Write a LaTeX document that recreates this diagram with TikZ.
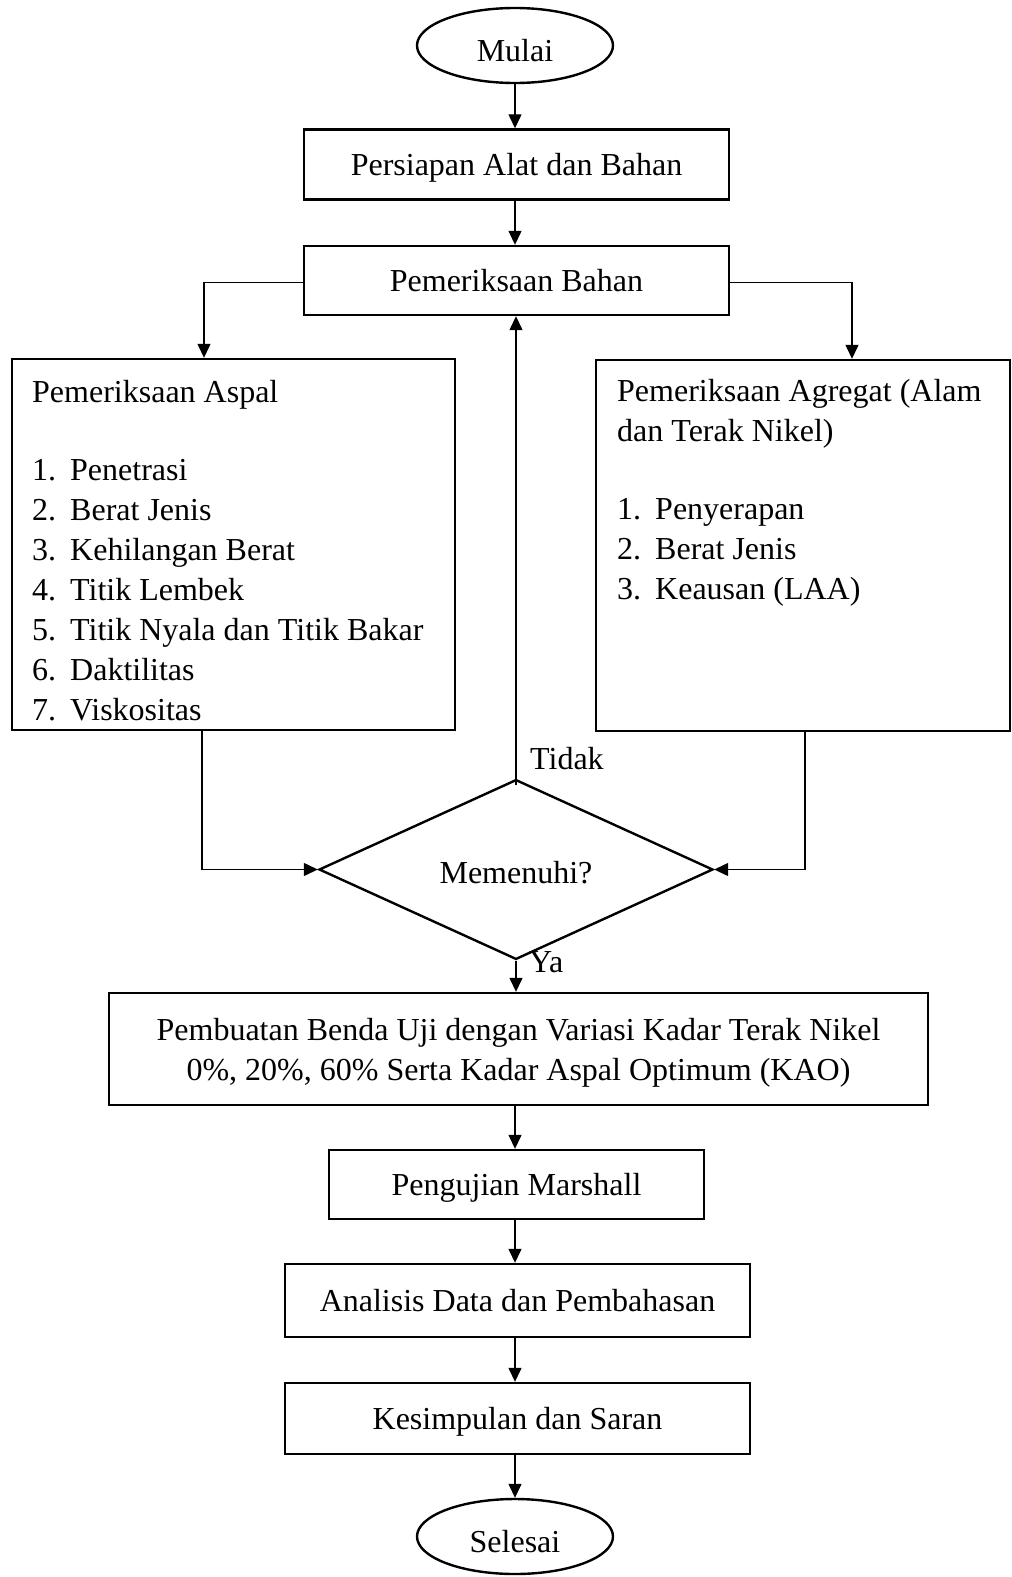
\documentclass[tikz,border=0pt]{standalone}
\usepackage{fontspec}
\setmainfont{Liberation Serif}
\usetikzlibrary{shapes.geometric,arrows.meta}
\newcommand\myfs{\fontsize{32}{40}\selectfont}
\begin{document}
\begin{tikzpicture}[x=1pt,y=-1pt,
  box/.style={draw,rectangle,line width=2.4pt,inner sep=0pt,align=center,font=\myfs,text height=22pt,text depth=0pt},
  bigbox/.style={draw,rectangle,line width=2.4pt,inner sep=0pt,align=center,font=\myfs},
  term/.style={draw,ellipse,line width=2.4pt,inner sep=0pt,minimum width=196pt,minimum height=75pt,font=\myfs,text height=32pt,text depth=0pt},
  decision/.style={draw,diamond,line width=2.4pt,inner sep=0pt,minimum width=394pt,minimum height=146pt,font=\myfs,text height=27pt,text depth=0pt},
  txt/.style={inner sep=0pt,font=\myfs},
  conn/.style={line width=1.3pt,-{Triangle[length=14pt,width=13pt]}}]
\useasboundingbox (0,0) rectangle (1012,1577);

% nodes
\node[term] (mulai) at (515,45.5) {Mulai};
\node[box,minimum width=425pt,minimum height=70pt] (persiapan) at (516.5,164.5) {Persiapan Alat dan Bahan};
\node[box,minimum width=425pt,minimum height=69pt] (bahan) at (516.5,280.5) {Pemeriksaan Bahan};
\node[bigbox,minimum width=443pt,minimum height=371pt] (aspal) at (233.5,544.5) {};
\node[bigbox,minimum width=414pt,minimum height=371pt] (agregat) at (803,545.5) {};
\node[decision] (dia) at (516,869.5) {Memenuhi?};
\node[bigbox,minimum width=819pt,minimum height=112pt,text depth=0pt] (pembuatan) at (518.5,1049)
  {Pembuatan Benda Uji dengan Variasi Kadar Terak Nikel\\0\%, 20\%, 60\% Serta Kadar Aspal Optimum (KAO)};
\node[box,minimum width=375pt,minimum height=69pt] (marshall) at (516.5,1184.5) {Pengujian Marshall};
\node[box,minimum width=465pt,minimum height=73pt] (analisis) at (517.5,1300.5) {Analisis Data dan Pembahasan};
\node[box,minimum width=465pt,minimum height=71pt] (kesimpulan) at (517.5,1418.5) {Kesimpulan dan Saran};
\node[term] (selesai) at (515,1536.5) {Selesai};

% Aspal contents
\node[txt,anchor=base west] (ah) at (32,402) {Pemeriksaan Aspal};
\node[txt,anchor=base west] (an1) at (32,480) {1.};
\node[txt,anchor=base west] (at1) at (70,480) {Penetrasi};
\node[txt,anchor=base west] (an2) at (32,520) {2.};
\node[txt,anchor=base west] (at2) at (70,520) {Berat Jenis};
\node[txt,anchor=base west] (an3) at (32,560) {3.};
\node[txt,anchor=base west] (at3) at (70,560) {Kehilangan Berat};
\node[txt,anchor=base west] (an4) at (32,600) {4.};
\node[txt,anchor=base west] (at4) at (70,600) {Titik Lembek};
\node[txt,anchor=base west] (an5) at (32,640) {5.};
\node[txt,anchor=base west] (at5) at (70,640) {Titik Nyala dan Titik Bakar};
\node[txt,anchor=base west] (an6) at (32,680) {6.};
\node[txt,anchor=base west] (at6) at (70,680) {Daktilitas};
\node[txt,anchor=base west] (an7) at (32,720) {7.};
\node[txt,anchor=base west] (at7) at (70,720) {Viskositas};

% Agregat contents
\node[txt,anchor=base west] (gh1) at (617,401) {Pemeriksaan Agregat (Alam};
\node[txt,anchor=base west] (gh2) at (617,441) {dan Terak Nikel)};
\node[txt,anchor=base west] (gn1) at (617,519) {1.};
\node[txt,anchor=base west] (gt1) at (655,519) {Penyerapan};
\node[txt,anchor=base west] (gn2) at (617,559) {2.};
\node[txt,anchor=base west] (gt2) at (655,559) {Berat Jenis};
\node[txt,anchor=base west] (gn3) at (617,599) {3.};
\node[txt,anchor=base west] (gt3) at (655,599) {Keausan (LAA)};

% labels
\node[txt,anchor=base west] (tidak) at (530,769) {Tidak};
\node[txt,anchor=base west] (ya) at (529,972) {Ya};

% connectors
\draw[conn] (mulai.south) -- (mulai.south |- persiapan.north);
\draw[conn] (persiapan.south -| mulai.south) -- (mulai.south |- bahan.north);
\draw[conn] ([yshift=-2pt]bahan.west) -| ([xshift=-29.5pt]aspal.north);
\draw[conn] ([yshift=-2pt]bahan.east) -| ([xshift=49pt]agregat.north);
\draw[conn] ([xshift=-31.5pt]aspal.south) |- (dia.west);
\draw[conn] ([xshift=2pt]agregat.south) |- (dia.east);
\draw[conn] ([yshift=-7pt]dia.north) -- (dia.north |- bahan.south);
\draw[conn] (dia.south) -- (dia.south |- pembuatan.north);
\draw[conn] (pembuatan.south -| mulai.south) -- (mulai.south |- marshall.north);
\draw[conn] (marshall.south -| mulai.south) -- (mulai.south |- analisis.north);
\draw[conn] (analisis.south -| mulai.south) -- (mulai.south |- kesimpulan.north);
\draw[conn] (kesimpulan.south -| mulai.south) -- (selesai.north);
\end{tikzpicture}
\end{document}
